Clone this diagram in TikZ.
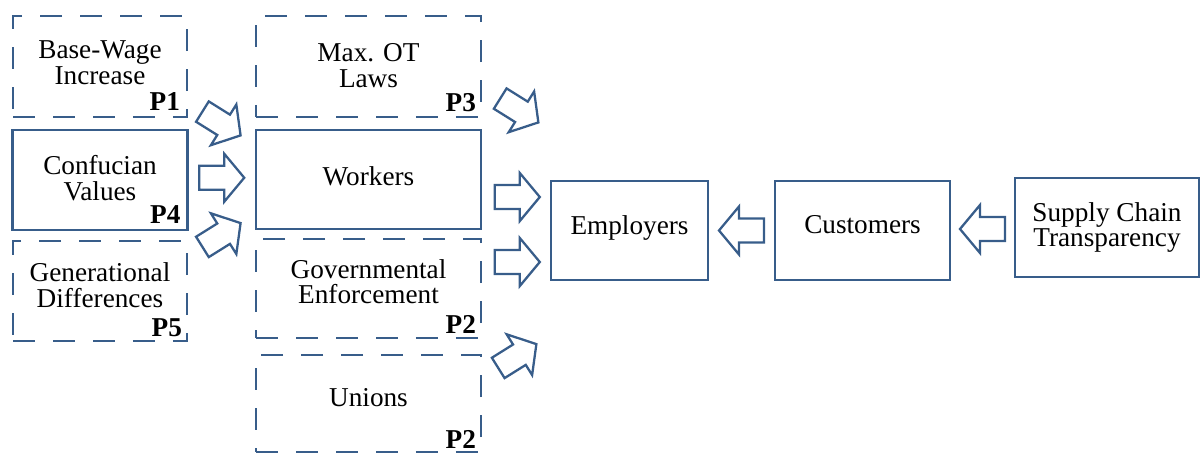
\documentclass[tikz,border=0pt]{standalone}
\usepackage{fontspec}
\setmainfont{Liberation Serif}
\usetikzlibrary{calc}

\definecolor{frameblue}{HTML}{385D8A}
\newcommand{\boxfont}{\fontsize{15.5}{14.5}\selectfont}

\tikzset{
    factor/.style={draw=frameblue, line width=1.5pt, inner sep=2pt},
    solidbox/.style={factor},
    dashbox/.style={factor, dash pattern=on 0.44cm off 0.36cm},
    boxtext/.style={align=center, inner sep=0pt},
    plabel/.style={font=\boxfont\bfseries, anchor=base east, inner sep=0pt},
    hollowarrow/.style={draw=frameblue, line width=1.3pt, line join=miter},
    pics/fatarrow/.style={code={
        \draw[hollowarrow] (-22.5,-12) -- (2.5,-12) -- (2.5,-24) -- (22.5,0) -- (2.5,24) -- (2.5,12) -- (-22.5,12) -- cycle;
    }}
}

\begin{document}
\begin{tikzpicture}[x=0.02cm, y=-0.02cm, font=\boxfont]

    \useasboundingbox (0,0) rectangle (1201,454);

    % left column
    \node[dashbox, minimum width=3.48cm, minimum height=2.02cm,
          label={[boxtext, yshift=0.08cm]center:{Base-Wage\\Increase}}] (basewage) at (100,66.5) {};
    \node[solidbox, minimum width=3.5cm, minimum height=2cm,
          label={[boxtext, yshift=0.04cm]center:{Confucian\\Values}}] (confucian) at (100,180) {};
    \node[dashbox, minimum width=3.48cm, minimum height=2cm,
          label={[boxtext, yshift=0.12cm]center:{Generational\\Differences}}] (generational) at (100,291) {};

    % middle column
    \node[dashbox, minimum width=4.5cm, minimum height=2.02cm,
          label={[boxtext, yshift=0.02cm]center:{Max. OT\\Laws}}] (maxot) at (368.5,66.5) {};
    \node[solidbox, minimum width=4.5cm, minimum height=1.98cm,
          label={[boxtext, yshift=0.06cm]center:Workers}] (workers) at (368.5,179.5) {};
    \node[dashbox, minimum width=4.5cm, minimum height=1.98cm,
          label={[boxtext, yshift=0.14cm]center:{Governmental\\Enforcement}}] (governmental) at (368.5,288.5) {};
    \node[dashbox, minimum width=4.5cm, minimum height=1.94cm,
          label={[boxtext, yshift=0.12cm]center:Unions}] (unions) at (368.5,403.5) {};

    % right row
    \node[solidbox, minimum width=3.14cm, minimum height=1.98cm,
          label={[boxtext, yshift=0.06cm]center:Employers}] (employers) at (629.5,230.5) {};
    \node[solidbox, minimum width=3.5cm, minimum height=1.98cm,
          label={[boxtext, yshift=0.12cm]center:Customers}] (customers) at (862.5,230.5) {};
    \node[solidbox, minimum width=3.68cm, minimum height=1.98cm,
          label={[boxtext]center:{Supply Chain\\Transparency}}] (supply) at (1107,227.5) {};

    % proposition labels
    \node[plabel] (p1) at ($(basewage.south east)+(-8,-8)$) {P1};
    \node[plabel] (p4) at ($(confucian.south east)+(-8,-8)$) {P4};
    \node[plabel] (p5) at ($(generational.south east)+(-6,-6)$) {P5};
    \node[plabel] (p3) at ($(maxot.south east)+(-6,-7)$) {P3};
    \node[plabel] (p2a) at ($(governmental.south east)+(-6,-6)$) {P2};
    \node[plabel] (p2b) at ($(unions.south east)+(-6,-5)$) {P2};

    % block arrows into workers
    \pic[rotate=-32] at ($(basewage.south east)!0.5!(workers.north west)$) {fatarrow};
    \pic at ($(confucian.east)!0.5!(workers.west)+(0,-2)$) {fatarrow};
    \pic[rotate=32] at ($(generational.north east)!0.5!(workers.south west)$) {fatarrow};

    % block arrows into employers
    \pic[rotate=-32] at ($(maxot.east)+(37,44)$) {fatarrow};
    \pic at ($(workers.east)+(35,17.5)$) {fatarrow};
    \pic at ($(governmental.east)+(35,-26.5)$) {fatarrow};
    \pic[rotate=32] at ($(unions.east)+(35,-47.5)$) {fatarrow};

    % customers and transparency
    \pic[rotate=180] at ($(employers.east)!0.5!(customers.west)$) {fatarrow};
    \pic[rotate=180] at ($(customers.east)!0.5!(supply.west)$) {fatarrow};

\end{tikzpicture}
\end{document}
